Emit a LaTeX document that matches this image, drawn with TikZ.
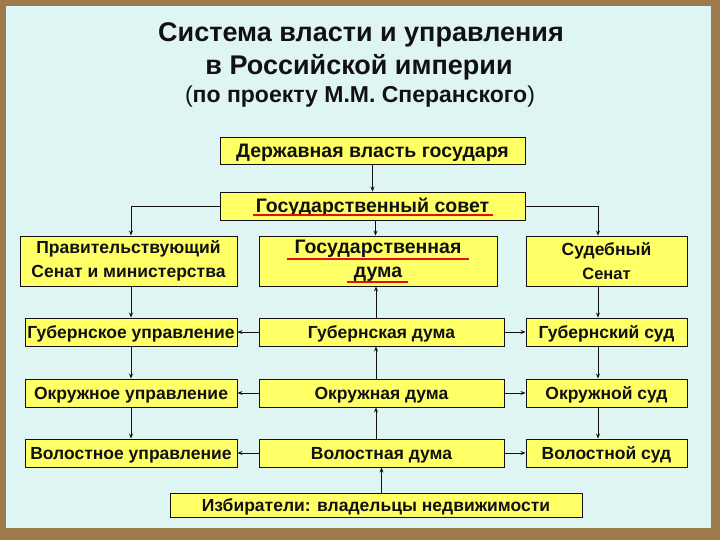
\documentclass[tikz,border=0pt]{standalone}
\usepackage{fontspec}
\setmainfont{Liberation Sans}
\usetikzlibrary{arrows.meta,positioning,calc}
\definecolor{frame}{HTML}{9C7A4C}
\definecolor{panel}{HTML}{DFF5F3}
\definecolor{organ}{HTML}{FFFF66}
\definecolor{ink}{HTML}{111111}
\definecolor{mark}{HTML}{E01010}
\tikzset{
  >={Stealth[length=5pt,width=4pt]},
  every node/.style={text=ink},
  box/.style={draw=ink,line width=0.9pt,fill=organ,inner sep=0pt,
    font=\bfseries\fontsize{17.5}{23.5}\selectfont},
  onebox/.style={box,text height=12.5pt,text depth=0.5pt},
  toprow/.style={onebox,minimum width=305pt,minimum height=27pt,text height=14pt,
    font=\bfseries\fontsize{19.5}{23}\selectfont},
  tallbox/.style={box,minimum height=50pt,align=center},
  lvlbox/.style={onebox,minimum height=28pt},
  arrow/.style={->,line width=0.8pt,draw=ink},
  redline/.style={draw=mark,line width=1.6pt},
  title/.style={font=\bfseries\fontsize{27}{32}\selectfont},
}
\begin{document}
\begin{tikzpicture}[x=1pt,y=-1pt]
\useasboundingbox (0,0) rectangle (720,540);
\fill[frame] (0,0) rectangle (720,540);
\fill[panel] (6,6) rectangle (711,528);

% title
\node[title] (head) at (361,35) {Система власти и управления};
\node[title] (head2) at (359,67) {в Российской империи};
\node[font=\bfseries\fontsize{23}{28}\selectfont] (head3) at (360,97) {{\mdseries(}по проекту М.М. Сперанского{\mdseries)}};

% top of the state
\node[toprow] (sov) at (372.5,150.5) {Державная власть государя};
\node[toprow,minimum height=28pt] (gsov) at (372.5,206) {Государственный совет};

% three branches
\node[tallbox,minimum width=217pt] (senat) at (128.5,261) {Правительствующий\\Сенат и министерства};
\node[tallbox,minimum width=238pt,font=\bfseries\fontsize{19.5}{24}\selectfont] (gduma) at (378,261) {Государственная\\дума};
\node[tallbox,minimum width=161pt] (sudsen) at (606.5,261) {Судебный\\{\fontsize{16.5}{20}\selectfont Сенат}};

% gubernia
\node[lvlbox,minimum width=212pt] (gubupr) at (131,332) {Губернское управление};
\node[lvlbox,minimum width=245pt] (gubduma) at (381.5,332) {Губернская дума};
\node[lvlbox,minimum width=161pt] (gubsud) at (606.5,332) {Губернский суд};

% okrug
\node[lvlbox,minimum width=212pt] (okrupr) at (131,393) {Окружное управление};
\node[lvlbox,minimum width=245pt] (okrduma) at (381.5,393) {Окружная дума};
\node[lvlbox,minimum width=161pt] (okrsud) at (606.5,393) {Окружной суд};

% volost
\node[lvlbox,minimum width=212pt] (volupr) at (131,453) {Волостное управление};
\node[lvlbox,minimum width=245pt] (volduma) at (381.5,453) {Волостная дума};
\node[lvlbox,minimum width=161pt] (volsud) at (606.5,453) {Волостной суд};

\node[onebox,minimum width=412pt,minimum height=24pt] (izb) at (376,505) {Избиратели: владельцы недвижимости};

% underlines
\draw[redline] ($(gsov.center)+(-120,9)$) -- ($(gsov.center)+(120,9)$);
\draw[redline] ($(gduma.center)+(-91,-2)$) -- ($(gduma.center)+(91,-2)$);
\draw[redline] ($(gduma.center)+(-31,21)$) -- ($(gduma.center)+(30,21)$);

% connectors
\draw[arrow] (sov) -- (gsov);
\draw[arrow] ([xshift=3pt]gsov.south) -- ([xshift=3pt]gsov.south |- gduma.north);
\draw[arrow] (gsov.west) -| ([xshift=2.5pt]senat.north);
\draw[arrow] (gsov.east) -| ([xshift=-8.5pt]sudsen.north);

\draw[arrow] ([xshift=2.5pt]senat.south) -- (gubupr);
\draw[arrow] (gubupr) -- (okrupr);
\draw[arrow] (okrupr) -- (volupr);

\draw[arrow] ([xshift=-8.5pt]sudsen.south) -- ([xshift=-8.5pt]gubsud.north);
\draw[arrow] ([xshift=-8.5pt]gubsud.south) -- ([xshift=-8.5pt]okrsud.north);
\draw[arrow] ([xshift=-8.5pt]okrsud.south) -- ([xshift=-8.5pt]volsud.north);

\draw[arrow] ([xshift=-5.5pt]gubduma.north) -- ([xshift=-5.5pt]gubduma.north |- gduma.south);
\draw[arrow] ([xshift=-5.5pt]okrduma.north) -- ([xshift=-5.5pt]gubduma.south);
\draw[arrow] ([xshift=-5.5pt]volduma.north) -- ([xshift=-5.5pt]okrduma.south);
\draw[arrow] (izb.north -| volduma.south) -- (volduma.south);

\foreach \lvl in {gub,okr,vol}{
  \draw[arrow] (\lvl duma) -- (\lvl upr);
  \draw[arrow] (\lvl duma) -- (\lvl sud);
}
\end{tikzpicture}
\end{document}
